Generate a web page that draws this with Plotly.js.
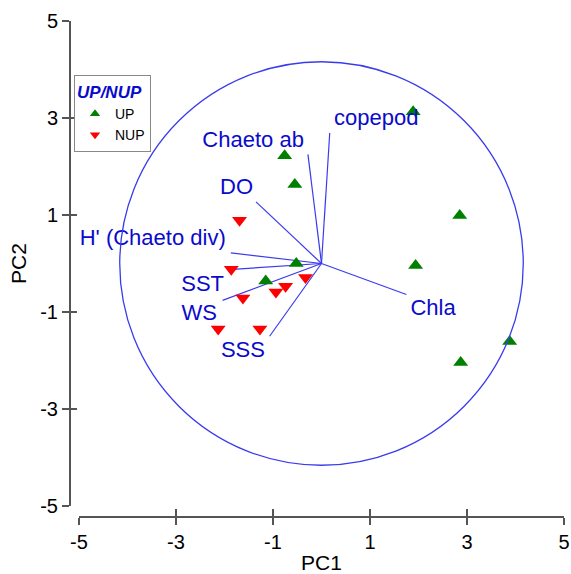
<!DOCTYPE html>
<html>
<head>
<meta charset="utf-8">
<script src="https://cdn.plot.ly/plotly-3.0.1.min.js"></script>
<style>html,body{margin:0;padding:0;background:#fff;}#chart{width:571px;height:574px;}</style>
</head>
<body>
<div id="chart"></div>
<script>
// Sample scores (PC1, PC2)
var upX = [1.89, -0.76, -0.55, 2.85, 1.94, -0.52, -1.15, 3.88, 2.87];
var upY = [3.13, 2.22, 1.63, 0.99, -0.04, 0.00, -0.36, -1.61, -2.04];
var nupX = [-1.69, -1.86, -1.62, -0.94, -0.74, -0.33, -2.13, -1.27];
var nupY = [0.89, -0.12, -0.71, -0.59, -0.47, -0.29, -1.35, -1.35];

// Variable loadings (vector tips) and label positions
var varNames = ["copepod", "Chaeto ab", "DO", "H' (Chaeto div)", "SST", "WS", "SSS", "Chla"];
var loadX = [0.17, -0.28, -1.35, -1.87, -1.83, -2.04, -1.07, 1.75];
var loadY = [2.69, 2.25, 1.27, 0.22, -0.12, -0.76, -1.50, -0.64];
var labelX = [1.13, -1.41, -1.75, -3.48, -2.45, -2.52, -1.62, 2.30];
var labelY = [2.97, 2.52, 1.55, 0.49, -0.46, -1.06, -1.82, -0.95];

var circleRadius = 4.16;

var tickVals = [-5, -3, -1, 1, 3, 5];
var tickText = ["-5", "-3", "-1", "1", "3", "5"];

var FONT = "Arial, 'Liberation Sans', sans-serif";
var LINEBLUE = "#3b3bee";
var TEXTBLUE = "#0a0acc";

var vx = [], vy = [];
for (var i = 0; i < loadX.length; i++) {
  vx.push(0, loadX[i], null);
  vy.push(0, loadY[i], null);
}

var traces = [
  {x: vx, y: vy, mode: "lines", line: {color: LINEBLUE, width: 1.2}, showlegend: false, hoverinfo: "skip"},
  {x: upX, y: upY, mode: "markers", marker: {symbol: "triangle-up", size: 13, color: "#008000"}, showlegend: false},
  {x: nupX, y: nupY, mode: "markers", marker: {symbol: "triangle-down", size: 13, color: "#ff0000"}, showlegend: false},
  {x: labelX, y: labelY, mode: "text", text: varNames, textposition: "middle center",
   textfont: {family: FONT, size: 22, color: TEXTBLUE}, showlegend: false, hoverinfo: "skip"},
  {x: [null], y: [null], mode: "markers", name: "UP", marker: {symbol: "triangle-up", size: 9, color: "#008000"}},
  {x: [null], y: [null], mode: "markers", name: "NUP", marker: {symbol: "triangle-down", size: 9, color: "#ff0000"}},
  {x: [null], y: [null], xaxis: "x2", yaxis: "y2", mode: "markers", showlegend: false, hoverinfo: "skip"}
];

var axisCommon = {
  range: [-5, 5], tickmode: "array", tickvals: tickVals, ticktext: tickText,
  showgrid: false, zeroline: false, showline: true, linecolor: "#555", linewidth: 1.5,
  ticks: "outside", ticklen: 7, tickwidth: 1.5, tickcolor: "#555",
  tickfont: {family: FONT, size: 20, color: "#000"}
};

var layout = {
  width: 571, height: 574,
  margin: {l: 60, r: 7, t: 21, b: 58},
  paper_bgcolor: "#fff", plot_bgcolor: "#fff",
  font: {family: FONT},
  xaxis: Object.assign({}, axisCommon, {
    domain: [0.0377, 1], anchor: "free", position: 0,
    title: {text: "PC1", font: {family: FONT, size: 21, color: "#000"}, standoff: 12}
  }),
  yaxis: Object.assign({}, axisCommon, {
    domain: [0.0202, 1], anchor: "free", position: 0.01786,
    title: {text: "PC2", font: {family: FONT, size: 21, color: "#000"}, standoff: 6}
  }),
  xaxis2: {overlaying: "x", anchor: "free", position: 0, range: [-5, 5], tickmode: "array", tickvals: tickVals,
    ticks: "inside", ticklen: 7, tickwidth: 1.5, tickcolor: "#555", showticklabels: false,
    showline: false, showgrid: false, zeroline: false},
  yaxis2: {overlaying: "y", anchor: "free", position: 0.01786, side: "left", range: [-5, 5], tickmode: "array", tickvals: tickVals,
    ticks: "inside", ticklen: 7, tickwidth: 1.5, tickcolor: "#555", showticklabels: false,
    showline: false, showgrid: false, zeroline: false},
  shapes: [{type: "circle", xref: "x", yref: "y", x0: -circleRadius, x1: circleRadius, y0: -circleRadius, y1: circleRadius,
    line: {color: LINEBLUE, width: 1.3}}],
  legend: {
    x: 0.0278, y: 0.891, xanchor: "left", yanchor: "top",
    bordercolor: "#888", borderwidth: 1, bgcolor: "#fff",
    font: {family: FONT, size: 14, color: "#000"},
    title: {text: "UP/NUP", font: {family: FONT, size: 17, color: TEXTBLUE, weight: "bold", style: "italic"}},
    tracegroupgap: 0, itemwidth: 30
  }
};

Plotly.newPlot("chart", traces, layout, {displayModeBar: false, staticPlot: true});
</script>
</body>
</html>
